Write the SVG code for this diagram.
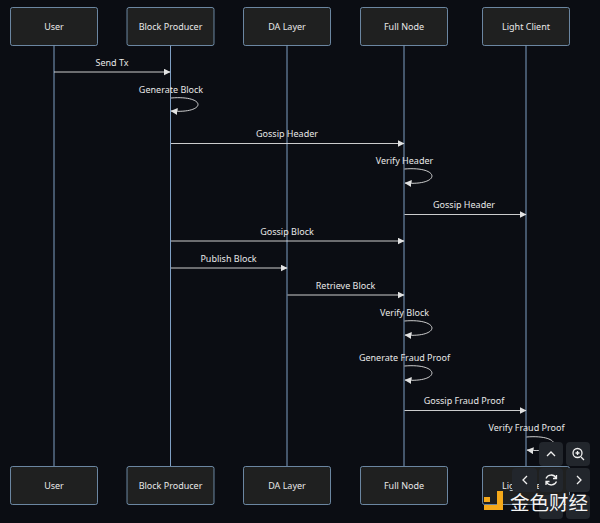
<svg xmlns="http://www.w3.org/2000/svg" width="600" height="523" viewBox="0 0 600 523">
<style>
text{font-family:"Noto Sans","DejaVu Sans",sans-serif;font-size:9px;fill:#e8e8e8;text-anchor:middle}
.box rect{fill:#1f2020;stroke:#81a3c4;stroke-width:.8}
.life{stroke:#7f9fc4;stroke-width:1;fill:none}
.msg{stroke:#e2e2e2;stroke-width:.9;fill:none;marker-end:url(#a)}
.btn{fill:#22262c}
.ic{fill:none;stroke:#f0f0f0;stroke-width:1.3}
</style>
<defs><marker id="a" markerUnits="userSpaceOnUse" markerWidth="7" markerHeight="7" refX="6.500" refY="3.500" orient="auto"><path d="M0 0L7 3.500L0 7z" fill="#e2e2e2"/></marker></defs>
<rect width="600" height="523" fill="#0b0d13"/>
<g id="lifelines">
<path class="life" d="M54 45V466"/><path class="life" d="M170.500 45V466"/><path class="life" d="M287 45V466"/><path class="life" d="M404 45V466"/><path class="life" d="M526 45V466"/>
</g>
<g id="connectors">
<path class="msg" d="M54 72H170"/>
<path class="msg" d="M171 98C207 95 207 114 171 111"/>
<path class="msg" d="M171 143.500H404"/>
<path class="msg" d="M404.500 169C441 166 441 186 405 183"/>
<path class="msg" d="M404.500 214.500H526"/>
<path class="msg" d="M171 241H404"/>
<path class="msg" d="M171 268H287"/>
<path class="msg" d="M287.500 295H404"/>
<path class="msg" d="M404.500 321C441 318 441 338 405 335"/>
<path class="msg" d="M404.500 366C441 363 441 383 405 380"/>
<path class="msg" d="M404.500 410.500H526"/>
<path class="msg" d="M526.500 437C563 434 563 454 527 450"/>
</g>
<g id="labels">
<text x="112" y="65.500">Send Tx</text>
<text x="171" y="92.500">Generate Block</text>
<text x="287" y="137">Gossip Header</text>
<text x="404.500" y="163.500">Verify Header</text>
<text x="464" y="208">Gossip Header</text>
<text x="287" y="234.500">Gossip Block</text>
<text x="228.500" y="261.500">Publish Block</text>
<text x="345.500" y="288.500">Retrieve Block</text>
<text x="404.500" y="315.500">Verify Block</text>
<text x="404.500" y="360.500">Generate Fraud Proof</text>
<text x="464" y="404">Gossip Fraud Proof</text>
<text x="526.500" y="431">Verify Fraud Proof</text>
</g>
<g id="user-top" class="box"><rect x="10.500" y="7.500" width="87" height="38" rx="2"/><text x="54" y="29.500">User</text></g>
<g id="producer-top" class="box"><rect x="127" y="7.500" width="87" height="38" rx="2"/><text x="170.500" y="29.500">Block Producer</text></g>
<g id="da-top" class="box"><rect x="243.500" y="7.500" width="87" height="38" rx="2"/><text x="287" y="29.500">DA Layer</text></g>
<g id="full-top" class="box"><rect x="360.500" y="7.500" width="87" height="38" rx="2"/><text x="404" y="29.500">Full Node</text></g>
<g id="light-top" class="box"><rect x="482.500" y="7.500" width="87" height="38" rx="2"/><text x="526" y="29.500">Light Client</text></g>
<g id="user-bottom" class="box"><rect x="10.500" y="466.500" width="87" height="38" rx="2"/><text x="54" y="488.500">User</text></g>
<g id="producer-bottom" class="box"><rect x="127" y="466.500" width="87" height="38" rx="2"/><text x="170.500" y="488.500">Block Producer</text></g>
<g id="da-bottom" class="box"><rect x="243.500" y="466.500" width="87" height="38" rx="2"/><text x="287" y="488.500">DA Layer</text></g>
<g id="full-bottom" class="box"><rect x="360.500" y="466.500" width="87" height="38" rx="2"/><text x="404" y="488.500">Full Node</text></g>
<g id="light-bottom" class="box"><rect x="482.500" y="466.500" width="87" height="38" rx="2"/><text x="526" y="488.500">Light Client</text></g>
<g id="controls">
<rect class="btn" x="539" y="442" width="24" height="24" rx="4"/>
<rect class="btn" x="566" y="442" width="24" height="24" rx="4"/>
<rect class="btn" x="512" y="468" width="25" height="24" rx="4"/>
<rect class="btn" x="539" y="468" width="24" height="24" rx="4"/>
<rect class="btn" x="566" y="468" width="24" height="24" rx="4"/>
<rect class="btn" x="539" y="495" width="24" height="24" rx="4"/>
<rect class="btn" x="566" y="495" width="24" height="24" rx="4"/>
<path class="ic" d="M547 456L551 452L555 456"/>
<circle class="ic" cx="577.500" cy="453" r="4.500"/><path class="ic" d="M581 457L584 460M575.500 453H579.500M577.500 451V455"/>
<path class="ic" d="M527 476L523 480L527 484"/>
<path class="ic" d="M546 478.500A5.500 5.500 0 0 1 556 478M556.500 481.500A5.500 5.500 0 0 1 546.500 482M556.500 475V478.500H553M546 485V481.500H549.500"/>
<path class="ic" d="M577 476L581 480L577 484"/>
</g>
<g id="watermark">
<path d="M497 491H503V510H484V505H497Z" fill="#f5a91a"/>
<rect x="484" y="497" width="6" height="5" fill="#f5a91a"/>
<text x="549" y="509.500" style="font-family:'Noto Sans CJK SC',sans-serif;font-size:19.500px;fill:#f4f4f4;font-weight:400">金色财经</text>
</g>
</svg>
